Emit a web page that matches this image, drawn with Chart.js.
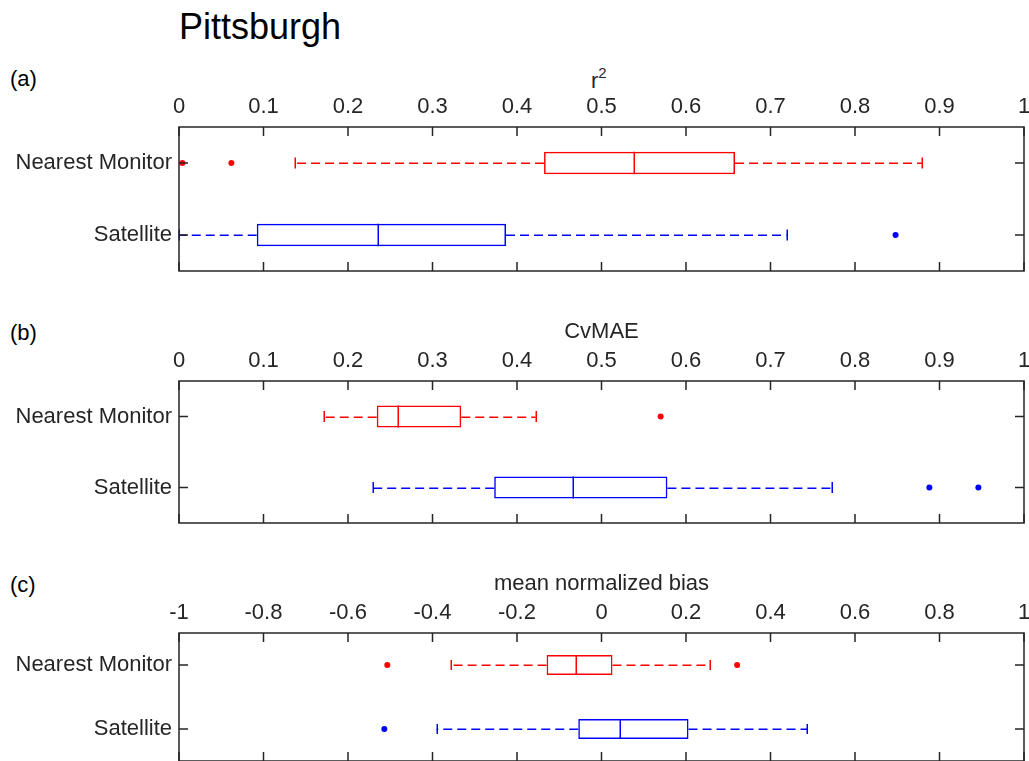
<!DOCTYPE html>
<html>
<head>
<meta charset="utf-8">
<script src="https://cdn.jsdelivr.net/npm/chart.js@4.4.0/dist/chart.umd.min.js"></script>
<style>
  body { margin: 0; width: 1029px; height: 761px; overflow: hidden; background: #fff;
         font-family: 'Liberation Sans', Arial, sans-serif; }
  .panel { position: absolute; left: 0; width: 1029px; }
  .lbl { position: absolute; left: 10px; font-size: 22px; line-height: 22px; color: #000; }
  #title { position: absolute; left: 179px; top: 9px; font-size: 36px; line-height: 36px; color: #000; }
  #r2 { position: absolute; left: 591px; top: 64px; font-size: 22px; line-height: 22px; color: #262626; }
  #r2 sup { font-size: 15px; position: relative; top: -2px; }
</style>
</head>
<body>
<div id="title">Pittsburgh</div>
<div class="lbl" style="top:68px">(a)</div>
<div class="lbl" style="top:322px">(b)</div>
<div class="lbl" style="top:574px">(c)</div>
<div id="r2">r<sup>2</sup></div>

<div class="panel" style="top:57px;height:216px"><canvas id="chartA" width="1029" height="216"></canvas></div>
<div class="panel" style="top:311px;height:214px"><canvas id="chartB" width="1029" height="214"></canvas></div>
<div class="panel" style="top:563px;height:200px"><canvas id="chartC" width="1029" height="200"></canvas></div>

<script>
const categories = ['Nearest Monitor', 'Satellite'];
const boxColors = ['#ff0000', '#0000ff'];

// (a) r^2
const r2Ticks = [0, 0.1, 0.2, 0.3, 0.4, 0.5, 0.6, 0.7, 0.8, 0.9, 1];
const r2Low = [0.137, 0.0];
const r2Q1 = [0.432, 0.092];
const r2Median = [0.538, 0.236];
const r2Q3 = [0.658, 0.387];
const r2High = [0.879, 0.719];
const r2Outliers = [[0.004, 0.062], [0.848]];

// (b) CvMAE
const cvTicks = [0, 0.1, 0.2, 0.3, 0.4, 0.5, 0.6, 0.7, 0.8, 0.9, 1];
const cvLow = [0.172, 0.230];
const cvQ1 = [0.234, 0.373];
const cvMedian = [0.259, 0.466];
const cvQ3 = [0.334, 0.578];
const cvHigh = [0.422, 0.773];
const cvOutliers = [[0.570], [0.888, 0.946]];

// (c) mean normalized bias
const mnbTicks = [-1, -0.8, -0.6, -0.4, -0.2, 0, 0.2, 0.4, 0.6, 0.8, 1];
const mnbLow = [-0.357, -0.390];
const mnbQ1 = [-0.130, -0.055];
const mnbMedian = [-0.061, 0.043];
const mnbQ3 = [0.026, 0.206];
const mnbHigh = [0.257, 0.487];
const mnbOutliers = [[-0.507, 0.321], [-0.514]];

const axisColor = '#262626';
const fontFamily = "'Liberation Sans', Arial, sans-serif";

// one full pixel row plus a half one, like the reference strokes
const px = v => Math.round(v) + 0.25;

// whiskers, medians, outliers, frame and inward ticks
const boxPlugin = {
  id: 'boxWhiskers',
  afterDatasetsDraw(chart, args, opts) {
    const ctx = chart.ctx;
    const xs = chart.scales.x, ys = chart.scales.y;
    const area = chart.chartArea;
    const step = ys.getPixelForValue(1) - ys.getPixelForValue(0);
    const boxH = step * 0.31;
    ctx.save();
    categories.forEach((c, i) => {
      const y = ys.getPixelForValue(i);
      const yl = px(y);
      ctx.strokeStyle = boxColors[i];
      ctx.fillStyle = boxColors[i];
      ctx.lineWidth = 1.5;
      // median
      const xm = px(xs.getPixelForValue(opts.median[i]));
      ctx.beginPath();
      ctx.moveTo(xm, y - boxH / 2);
      ctx.lineTo(xm, y + boxH / 2);
      ctx.stroke();
      // dashed whiskers
      ctx.setLineDash([9, 5]);
      ctx.beginPath();
      ctx.moveTo(xs.getPixelForValue(opts.q1[i]), yl);
      ctx.lineTo(xs.getPixelForValue(opts.low[i]), yl);
      ctx.moveTo(xs.getPixelForValue(opts.q3[i]), yl);
      ctx.lineTo(xs.getPixelForValue(opts.high[i]), yl);
      ctx.stroke();
      ctx.setLineDash([]);
      // caps
      [opts.low[i], opts.high[i]].forEach(v => {
        const xc = px(xs.getPixelForValue(v));
        ctx.beginPath();
        ctx.moveTo(xc, y - boxH / 4);
        ctx.lineTo(xc, y + boxH / 4);
        ctx.stroke();
      });
      // outliers
      opts.outliers[i].forEach(v => {
        ctx.beginPath();
        ctx.arc(xs.getPixelForValue(v), y, 3, 0, Math.PI * 2);
        ctx.fill();
      });
    });
    // frame
    ctx.strokeStyle = axisColor;
    ctx.lineWidth = 1.5;
    ctx.strokeRect(area.left, area.top, area.right - area.left, area.bottom - area.top);
    ctx.beginPath();
    xs.ticks.forEach(t => {
      const x = xs.getPixelForValue(t.value);
      ctx.moveTo(x, area.top); ctx.lineTo(x, area.top + 9);
      ctx.moveTo(x, area.bottom); ctx.lineTo(x, area.bottom - 9);
    });
    categories.forEach((c, i) => {
      const y = ys.getPixelForValue(i);
      ctx.moveTo(area.left, y); ctx.lineTo(area.left + 9, y);
      ctx.moveTo(area.right, y); ctx.lineTo(area.right - 9, y);
    });
    ctx.stroke();
    ctx.restore();
  }
};

function makePanel(id, title, ticks, low, q1, median, q3, high, outliers) {
  const ctx = document.getElementById(id).getContext('2d');
  return new Chart(ctx, {
    type: 'bar',
    data: {
      labels: categories,
      datasets: [{
        data: q1.map((v, i) => [v, q3[i]]),
        borderColor: boxColors,
        backgroundColor: 'rgba(0,0,0,0)',
        borderWidth: 1.5,
        borderSkipped: false,
        barPercentage: 0.31,
        categoryPercentage: 1
      }]
    },
    options: {
      indexAxis: 'y',
      responsive: false,
      animation: false,
      layout: { padding: { left: 0, right: 5, top: 0, bottom: 2 } },
      plugins: {
        legend: { display: false },
        tooltip: { enabled: false },
        boxWhiskers: { low, q1, median, q3, high, outliers }
      },
      scales: {
        x: {
          position: 'top',
          min: ticks[0],
          max: ticks[ticks.length - 1],
          grid: { display: false, drawTicks: false },
          border: { display: false },
          afterBuildTicks: s => { s.ticks = ticks.map(v => ({ value: v })); },
          afterFit: s => { s.height = 70; s.paddingLeft = 0; s.paddingRight = 0; },
          ticks: {
            autoSkip: false, maxRotation: 0, padding: 7,
            color: axisColor,
            font: { family: fontFamily, size: 22 },
            callback: v => String(v)
          },
          title: {
            display: title !== '', text: title, color: axisColor,
            padding: { top: 8, bottom: 0 },
            font: { family: fontFamily, size: 22 }
          }
        },
        y: {
          grid: { display: false, drawTicks: false },
          border: { display: false },
          afterFit: s => { s.width = 179; s.paddingTop = 0; s.paddingBottom = 0; },
          ticks: {
            padding: 7, color: axisColor,
            font: { family: fontFamily, size: 22 }
          }
        }
      }
    },
    plugins: [boxPlugin]
  });
}

// r^2 title is written as html above the chart (superscript)
makePanel('chartA', '', r2Ticks, r2Low, r2Q1, r2Median, r2Q3, r2High, r2Outliers);
makePanel('chartB', 'CvMAE', cvTicks, cvLow, cvQ1, cvMedian, cvQ3, cvHigh, cvOutliers);
makePanel('chartC', 'mean normalized bias', mnbTicks, mnbLow, mnbQ1, mnbMedian, mnbQ3, mnbHigh, mnbOutliers);
</script>
</body>
</html>
